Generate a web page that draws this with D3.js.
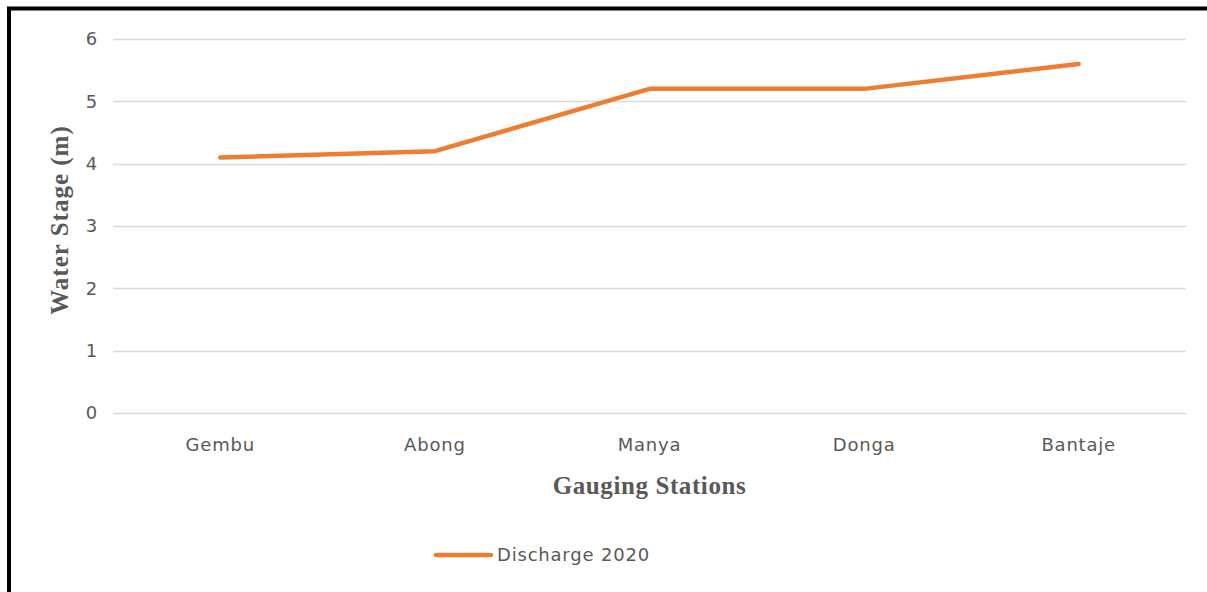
<!DOCTYPE html>
<html>
<head>
<meta charset="utf-8">
<script src="https://cdn.jsdelivr.net/npm/d3@7"></script>
<style>
  html, body { margin: 0; padding: 0; background: #fff; }
  svg { display: block; }
  .tick-label { font-family: "DejaVu Sans", sans-serif; font-size: 18px; letter-spacing: 0.8px; fill: #595959; }
  .axis-title { font-family: "Liberation Serif", "DejaVu Serif", serif; font-weight: bold; font-size: 25px; letter-spacing: 0.6px; fill: #595959; }
</style>
</head>
<body>
<svg id="chart" width="1207" height="592"></svg>
<script>
const stations = ['Gembu', 'Abong', 'Manya', 'Donga', 'Bantaje'];
const discharge2020 = [4.1, 4.2, 5.2, 5.2, 5.6];
const yTicks = [0, 1, 2, 3, 4, 5, 6];
const seriesName = 'Discharge 2020';

const svg = d3.select('#chart');
const orange = '#ED7D31';

// frame (left and top edges visible)
svg.append('path')
  .attr('d', 'M9,592 V8.5 H1207')
  .attr('fill', 'none')
  .attr('stroke', '#000')
  .attr('stroke-width', 4);

const margin = { left: 113, right: 1186, top: 39, bottom: 413 };

const x = d3.scaleBand().domain(stations).range([margin.left, margin.right]);
const y = d3.scaleLinear().domain([0, 6]).range([margin.bottom, margin.top]);

// gridlines
svg.append('g')
  .selectAll('line')
  .data(yTicks)
  .join('line')
  .attr('x1', margin.left)
  .attr('x2', margin.right)
  .attr('y1', d => Math.round(y(d)) + 0.5)
  .attr('y2', d => Math.round(y(d)) + 0.5)
  .attr('stroke', '#d9d9d9')
  .attr('stroke-width', 1.5);

// y tick labels
svg.append('g')
  .selectAll('text')
  .data(yTicks)
  .join('text')
  .attr('class', 'tick-label')
  .attr('x', 98)
  .attr('y', d => y(d))
  .attr('dy', '0.35em')
  .attr('text-anchor', 'end')
  .text(d => d);

// x category labels
svg.append('g')
  .selectAll('text')
  .data(stations)
  .join('text')
  .attr('class', 'tick-label')
  .attr('x', d => x(d) + x.bandwidth() / 2)
  .attr('y', 451)
  .attr('text-anchor', 'middle')
  .text(d => d);

// series line
const line = d3.line()
  .x((d, i) => x(stations[i]) + x.bandwidth() / 2)
  .y(d => y(d));

svg.append('path')
  .datum(discharge2020)
  .attr('d', line)
  .attr('fill', 'none')
  .attr('stroke', orange)
  .attr('stroke-width', 4.5)
  .attr('stroke-linecap', 'round')
  .attr('stroke-linejoin', 'round');

// axis titles
svg.append('text')
  .attr('class', 'axis-title')
  .attr('x', (margin.left + margin.right) / 2)
  .attr('y', 494)
  .attr('text-anchor', 'middle')
  .text('Gauging Stations');

svg.append('text')
  .attr('class', 'axis-title')
  .attr('transform', `translate(68, ${(margin.top + margin.bottom) / 2 - 6}) rotate(-90)`)
  .attr('text-anchor', 'middle')
  .style('letter-spacing', '1px')
  .text('Water Stage (m)');

// legend
const legend = svg.append('g').attr('transform', 'translate(436, 555)');
legend.append('line')
  .attr('x1', 0).attr('x2', 55)
  .attr('y1', 0).attr('y2', 0)
  .attr('stroke', orange)
  .attr('stroke-width', 4.5)
  .attr('stroke-linecap', 'round');
legend.append('text')
  .attr('class', 'tick-label')
  .attr('x', 61)
  .attr('y', 0)
  .attr('dy', '0.35em')
  .text(seriesName);
</script>
</body>
</html>
